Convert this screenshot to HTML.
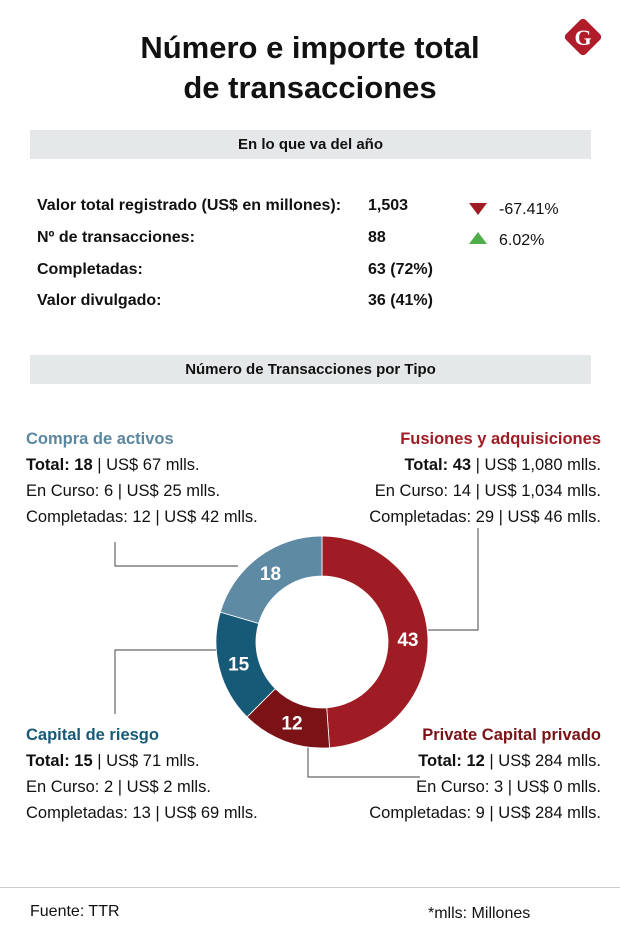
<!DOCTYPE html>
<html><head><meta charset="utf-8"><style>
body{margin:0;width:620px;height:950px;background:#fff;font-family:"Liberation Sans",sans-serif;color:#111;position:relative;overflow:hidden}
.a{position:absolute;white-space:nowrap}
.bar{position:absolute;left:30px;width:561px;height:29px;background:#e4e8e8;font-weight:bold;font-size:15px;text-align:center;line-height:29px}
.row{font-size:16px;font-weight:bold}
.lab{font-size:16.5px;line-height:26px}
</style></head><body>
<div class="a" style="left:0;width:620px;top:28px;text-align:center;font-size:31px;font-weight:bold;line-height:40px">Número e importe total<br>de transacciones</div>
<svg class="a" style="left:561px;top:15px" width="44" height="44"><rect x="8" y="8" width="28" height="28" rx="4" fill="#b01c2a" transform="rotate(45 22 22)"/><text x="22" y="30" text-anchor="middle" font-size="22" font-weight="bold" fill="#fff" font-family="Liberation Serif">G</text></svg>
<div class="bar" style="top:130px">En lo que va del año</div>
<div class="a row" style="left:37px;top:197px">Valor total registrado (US$ en millones):</div>
<div class="a row" style="left:368px;top:197px">1,503</div>
<div class="a row" style="left:37px;top:229px">Nº de transacciones:</div>
<div class="a row" style="left:368px;top:229px">88</div>
<div class="a row" style="left:37px;top:261px">Completadas:</div>
<div class="a row" style="left:368px;top:261px">63 (72%)</div>
<div class="a row" style="left:37px;top:292px">Valor divulgado:</div>
<div class="a row" style="left:368px;top:292px">36 (41%)</div>
<svg class="a" style="left:469px;top:203px" width="18" height="14"><polygon points="0,0 18,0 9,12" fill="#a01c24"/></svg>
<div class="a" style="left:499px;top:201px;font-size:16px">-67.41%</div>
<svg class="a" style="left:469px;top:232px" width="18" height="14"><polygon points="0,12 18,12 9,0" fill="#4fae4a"/></svg>
<div class="a" style="left:499px;top:232px;font-size:16px">6.02%</div>
<div class="bar" style="top:355px">Número de Transacciones por Tipo</div>

<svg class="a" id="chart" style="left:0;top:0" width="620" height="950">
<g stroke="#666" fill="none" stroke-width="1.2">
<polyline points="115,542 115,566 238,566"/>
<polyline points="478,528 478,630 428,630"/>
<polyline points="115,714 115,650 218,650"/>
<polyline points="308,742 308,777 420,777"/>
</g>
<g id="slices"></g>
</svg>

<div class="a lab" style="left:26px;top:426px"><b style="color:#5a879f">Compra de activos</b><br><b>Total: 18</b> | US$ 67 mlls.<br>En Curso: 6 | US$ 25 mlls.<br>Completadas: 12 | US$ 42 mlls.</div>
<div class="a lab" style="right:19px;top:426px;text-align:right"><b style="color:#a01c24">Fusiones y adquisiciones</b><br><b>Total: 43</b> | US$ 1,080 mlls.<br>En Curso: 14 | US$ 1,034 mlls.<br>Completadas: 29 | US$ 46 mlls.</div>
<div class="a lab" style="left:26px;top:722px"><b style="color:#175a78">Capital de riesgo</b><br><b>Total: 15</b> | US$ 71 mlls.<br>En Curso: 2 | US$ 2 mlls.<br>Completadas: 13 | US$ 69 mlls.</div>
<div class="a lab" style="right:19px;top:722px;text-align:right"><b style="color:#7a1216">Private Capital privado</b><br><b>Total: 12</b> | US$ 284 mlls.<br>En Curso: 3 | US$ 0 mlls.<br>Completadas: 9 | US$ 284 mlls.</div>

<div class="a" style="left:0;top:887px;width:620px;height:1px;background:#ccc"></div>
<div class="a" style="left:30px;top:903px;font-size:16px">Fuente: TTR</div>
<div class="a" style="left:428px;top:905px;font-size:16px">*mlls: Millones</div>
<script>
const categories=["Fusiones y adquisiciones","Private Capital privado","Capital de riesgo","Compra de activos"];
const values=[43,12,15,18];
const colors=["#a01c24","#7a1216","#175a78","#5f8aa3"];
const cx=322,cy=642,R=106,r=66;
const g=document.getElementById('slices');
const total=values.reduce((a,b)=>a+b,0);
let acc=0;
const ns="http://www.w3.org/2000/svg";
function pt(rad,ang){return [cx+rad*Math.sin(ang),cy-rad*Math.cos(ang)];}
values.forEach((v,i)=>{
 const a0=acc/total*2*Math.PI;acc+=v;const a1=acc/total*2*Math.PI;
 const large=(a1-a0)>Math.PI?1:0;
 const p0=pt(R,a0),p1=pt(R,a1),q1=pt(r,a1),q0=pt(r,a0);
 const p=document.createElementNS(ns,'path');
 p.setAttribute('d',`M${p0[0]},${p0[1]}A${R},${R} 0 ${large} 1 ${p1[0]},${p1[1]}L${q1[0]},${q1[1]}A${r},${r} 0 ${large} 0 ${q0[0]},${q0[1]}Z`);
 p.setAttribute('fill',colors[i]);p.setAttribute('stroke','#fff');p.setAttribute('stroke-width','0.8');
 
 
 g.appendChild(p);
 const m=(a0+a1)/2,t=pt((R+r)/2,m);
 const tx=document.createElementNS(ns,'text');
 tx.setAttribute('x',t[0]);tx.setAttribute('y',t[1]+7);tx.setAttribute('text-anchor','middle');
 tx.setAttribute('font-size','19');tx.setAttribute('font-weight','bold');tx.setAttribute('fill','#fff');
 tx.setAttribute('font-family','Liberation Sans, sans-serif');
 tx.textContent=v;
 
 
 g.appendChild(tx);
});
</script>
</body></html>
